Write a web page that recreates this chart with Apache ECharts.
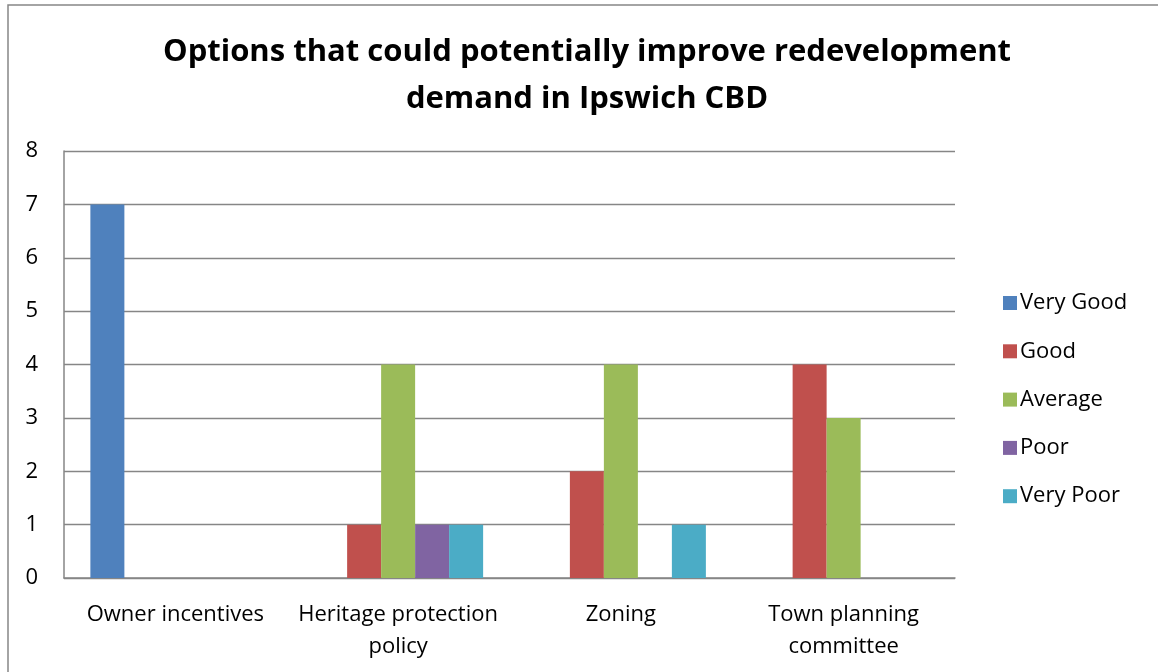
<!DOCTYPE html>
<html><head><meta charset="utf-8">
<script src="https://cdn.jsdelivr.net/npm/echarts@6/dist/echarts.min.js"></script>
<style>html,body{margin:0;padding:0;background:#fff}#c{width:1158px;height:672px}</style>
</head><body><div id="c"></div>
<script>
const categories = ['Owner incentives', 'Heritage protection\npolicy', 'Zoning', 'Town planning\ncommittee'];
const seriesNames = ['Very Good', 'Good', 'Average', 'Poor', 'Very Poor'];
const veryGood = [7, 0, 0, 0];
const good = [0, 1, 2, 4];
const average = [0, 4, 4, 3];
const poor = [0, 1, 0, 0];
const veryPoor = [0, 1, 1, 0];
const yTicks = [0, 1, 2, 3, 4, 5, 6, 7, 8];
const colors = ['#4F81BD', '#C0504D', '#9BBB59', '#8064A2', '#4BACC6'];
const values = [veryGood, good, average, poor, veryPoor];
const FONT = 'Open Sans';
const chart = echarts.init(document.getElementById('c'));
chart.setOption({
  animation: false,
  color: colors,
  title: {
    text: 'Options that could potentially improve redevelopment\ndemand in Ipswich CBD',
    left: 582, textAlign: 'center', top: 24,
    textStyle: { fontFamily: FONT, fontWeight: 'bold', fontSize: 31, lineHeight: 47, color: '#000' }
  },
  graphic: [{ type: 'rect', shape: { x: 8, y: 5, width: 1300, height: 800 }, style: { fill: null, stroke: '#868686', lineWidth: 1.5 }, silent: true }],
  legend: {
    orient: 'vertical', left: 998, top: 287, itemWidth: 14, itemHeight: 14, itemGap: 26.3,
    icon: 'rect', data: seriesNames,
    textStyle: { fontFamily: FONT, fontSize: 22, color: '#000', padding: [0, 0, 0, -2] }
  },
  grid: { left: 64, top: 151, right: 203, bottom: 94 },
  xAxis: {
    type: 'category', data: categories,
    axisLine: { lineStyle: { color: '#868686', width: 1.5 } },
    axisTick: { show: false },
    axisLabel: { fontFamily: FONT, fontSize: 22, color: '#000', margin: 21, lineHeight: 32, interval: 0 }
  },
  yAxis: {
    type: 'value', min: 0, max: 8, interval: 1,
    axisLine: { show: true, lineStyle: { color: '#868686', width: 1.5 } },
    axisTick: { show: false },
    splitLine: { lineStyle: { color: '#868686', width: 1.3 } },
    axisLabel: { fontFamily: FONT, fontSize: 22, color: '#000', margin: 26,
      formatter: v => yTicks.includes(v) ? String(v) : '' }
  },
  series: seriesNames.map((n, i) => ({
    name: n, type: 'bar', data: values[i], barWidth: 34, barGap: '0%'
  }))
});
</script></body></html>
